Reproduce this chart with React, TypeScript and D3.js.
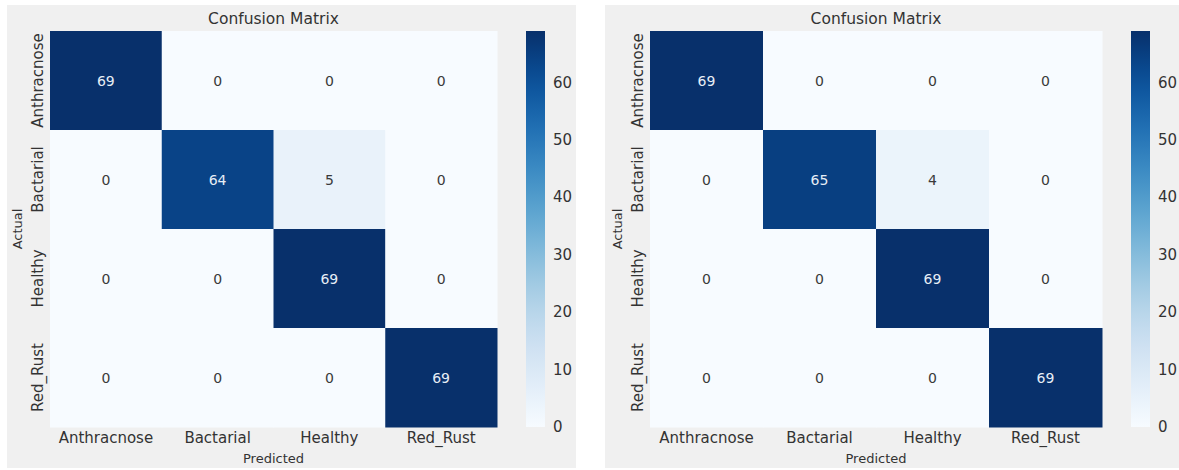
import React from "react";
import * as d3 from "d3";

const categories = ["Anthracnose", "Bactarial", "Healthy", "Red_Rust"];
const matrixLeft = [
  [69, 0, 0, 0],
  [0, 64, 5, 0],
  [0, 0, 69, 0],
  [0, 0, 0, 69],
];
const matrixRight = [
  [69, 0, 0, 0],
  [0, 65, 4, 0],
  [0, 0, 69, 0],
  [0, 0, 0, 69],
];
const colorbarTicks = [0, 10, 20, 30, 40, 50, 60];
const vmin = 0;
const vmax = 69;

const FONT = "DejaVu Sans, sans-serif";

type PanelProps = {
  id: string;
  matrix: number[][];
  panelX: number;
  panelW: number;
  hx0: number;
  hx1: number;
  cbx: number;
};

function Panel({ id, matrix, panelX, panelW, hx0, hx1, cbx }: PanelProps) {
  const hy0 = 31;
  const hy1 = 427;
  const x = d3.scaleBand<string>().domain(categories).range([hx0, hx1]);
  const y = d3.scaleBand<string>().domain(categories).range([hy0, hy1]);
  const color = d3.scaleSequential(d3.interpolateBlues).domain([vmin, vmax]);
  const cbScale = d3.scaleLinear().domain([vmin, vmax]).range([hy1, hy0]);
  const cbW = 19;
  const stops = d3.range(0, 1.0001, 0.05);
  const cx = (hx0 + hx1) / 2;
  const cy = (hy0 + hy1) / 2;
  const textColor = (v: number) => {
    const c = d3.rgb(color(v));
    const lum = 0.2126 * (c.r / 255) + 0.7152 * (c.g / 255) + 0.0722 * (c.b / 255);
    return lum > 0.408 ? "#3a3a3a" : "#e6edf6";
  };
  return (
    <g>
      <rect x={panelX} y={5} width={panelW} height={463} fill="#f0f0f0" />
      <defs>
        <linearGradient id={`grad-${id}`} x1="0" y1="1" x2="0" y2="0">
          {stops.map((t) => (
            <stop key={t} offset={`${t * 100}%`} stopColor={d3.interpolateBlues(t)} />
          ))}
        </linearGradient>
      </defs>
      {matrix.map((row, i) =>
        row.map((v, j) => (
          <rect
            key={`c-${i}-${j}`}
            x={x(categories[j])!}
            y={y(categories[i])!}
            width={x.bandwidth() + 0.5}
            height={y.bandwidth() + 0.5}
            fill={color(v)}
          />
        ))
      )}
      {matrix.map((row, i) =>
        row.map((v, j) => (
          <text
            key={`t-${i}-${j}`}
            x={x(categories[j])! + x.bandwidth() / 2}
            y={y(categories[i])! + y.bandwidth() / 2}
            textAnchor="middle"
            dominantBaseline="central"
            fontFamily={FONT}
            fontSize={14}
            fill={textColor(v)}
          >
            {v}
          </text>
        ))
      )}
      {categories.map((c) => (
        <text
          key={`xl-${c}`}
          x={x(c)! + x.bandwidth() / 2}
          y={438}
          textAnchor="middle"
          dominantBaseline="central"
          fontFamily={FONT}
          fontSize={15}
          fill="#333"
        >
          {c}
        </text>
      ))}
      {categories.map((c) => {
        const yy = y(c)! + y.bandwidth() / 2;
        const xx = hx0 - 12;
        return (
          <text
            key={`yl-${c}`}
            transform={`translate(${xx},${yy}) rotate(-90)`}
            textAnchor="middle"
            dominantBaseline="central"
            fontFamily={FONT}
            fontSize={15}
            fill="#333"
          >
            {c}
          </text>
        );
      })}
      <text
        x={cx}
        y={19}
        textAnchor="middle"
        dominantBaseline="central"
        fontFamily={FONT}
        fontSize={15.5}
        fill="#333"
      >
        Confusion Matrix
      </text>
      <text
        x={cx}
        y={458}
        textAnchor="middle"
        dominantBaseline="central"
        fontFamily={FONT}
        fontSize={13}
        fill="#333"
      >
        Predicted
      </text>
      <text
        transform={`translate(${hx0 - 33},${cy}) rotate(-90)`}
        textAnchor="middle"
        dominantBaseline="central"
        fontFamily={FONT}
        fontSize={13}
        fill="#333"
      >
        Actual
      </text>
      <rect x={cbx} y={hy0} width={cbW} height={hy1 - hy0} fill={`url(#grad-${id})`} />
      {colorbarTicks.map((t) => (
        <text
          key={`cb-${t}`}
          x={cbx + cbW + 8}
          y={cbScale(t)}
          dominantBaseline="central"
          fontFamily={FONT}
          fontSize={15}
          fill="#333"
        >
          {t}
        </text>
      ))}
    </g>
  );
}

export default function App() {
  return (
    <svg
      width={1179}
      height={470}
      style={{ position: "absolute", left: 0, top: 0, background: "#ffffff" }}
    >
      <Panel id="l" matrix={matrixLeft} panelX={7} panelW={569} hx0={50} hx1={497} cbx={526} />
      <Panel id="r" matrix={matrixRight} panelX={605} panelW={574} hx0={650} hx1={1102} cbx={1131} />
    </svg>
  );
}
